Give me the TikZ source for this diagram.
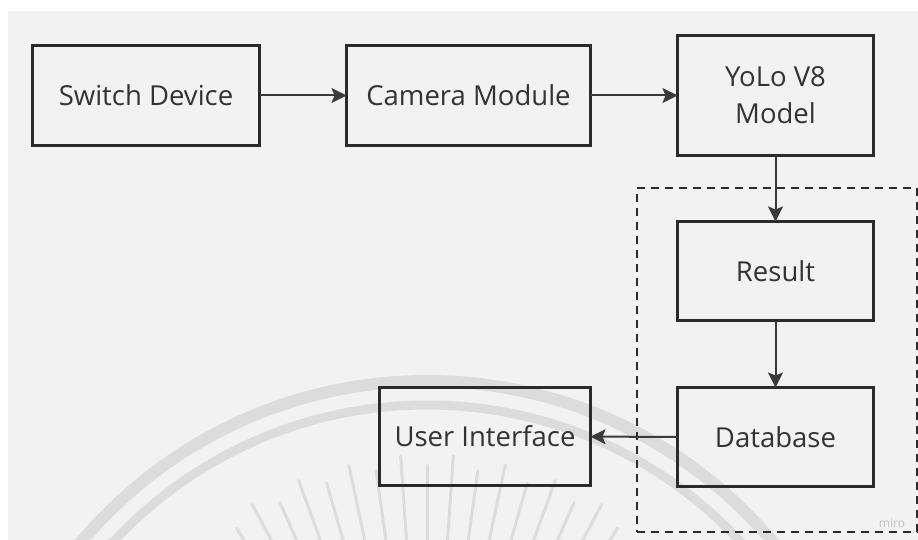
\documentclass[tikz,border=0pt]{standalone}
\usepackage{fontspec}
\setmainfont{Open Sans}
\usetikzlibrary{arrows.meta,calc}
\definecolor{bggray}{HTML}{F2F2F2}
\definecolor{wmgray}{HTML}{DCDCDC}
\definecolor{boxline}{HTML}{2B2B2B}
\definecolor{txtcol}{HTML}{333333}
\definecolor{arrcol}{HTML}{3A3A3A}
\tikzset{
  blockbox/.style={draw=boxline, line width=3pt, text=txtcol, align=center,
    font=\fontsize{27.5}{37}\selectfont, inner sep=0pt, outer sep=0pt},
  flowarrow/.style={draw=arrcol, line width=2pt,
    -{Stealth[length=15pt,width=15pt,inset=3pt]}},
  groupbox/.style={draw=boxline, line width=2pt, dash pattern=on 8pt off 6pt},
  wmline/.style={draw=wmgray},
}
\begin{document}
\begin{tikzpicture}[x=1pt,y=-1pt]
\useasboundingbox (0,0) rectangle (918,540);
\fill[white] (0,0) rectangle (918,540);
\fill[bggray] (8,11) rectangle (918,540);
% watermark
\begin{scope}
\clip (8,11) rectangle (918,540);
\draw[wmline, line width=12pt] (427,833) circle[radius=452];
\draw[wmline, line width=9pt] (427,833) circle[radius=428];
\foreach \a/\r in {-32/360,-28/372,-24/362,-20/375,-16/364,-12/376,-8/366,-4/378,0/368,4/378,8/366,12/376,16/364,20/375,24/362,28/372,32/360}{
  \draw[wmline, line width=3pt, line cap=round] ($(427,833)+(-90+\a:\r)$) -- ($(427,833)+(-90+\a:230)$);
}
\end{scope}
% nodes
\node[blockbox, minimum width=227pt, minimum height=100pt] (sw) at (146,95.5) {Switch Device};
\node[blockbox, minimum width=244pt, minimum height=100pt] (cam) at (468.5,95.5) {Camera Module};
\node[blockbox, minimum width=196pt, minimum height=120pt] (yolo) at (775.5,95.5) {YoLo V8\\Model};
\node[blockbox, minimum width=196pt, minimum height=99pt] (res) at (775.5,271) {Result};
\node[blockbox, minimum width=196pt, minimum height=99pt] (db) at (775.5,437) {Database};
\node[blockbox, minimum width=211pt, minimum height=98pt] (ui) at (485,436.5) {User Interface};
\node[groupbox, minimum width=280pt, minimum height=344pt, inner sep=0pt] (grp) at (777,360) {};
\node[text=black!25, font=\fontsize{12}{14}\selectfont, inner sep=0pt] (miro) at (892,523) {miro};
% connectors
\draw[flowarrow] (sw) -- (cam);
\draw[flowarrow] (cam) -- (yolo);
\draw[flowarrow] (yolo) -- (res);
\draw[flowarrow] (res) -- (db);
\draw[flowarrow] (db) -- (ui);
\end{tikzpicture}
\end{document}
